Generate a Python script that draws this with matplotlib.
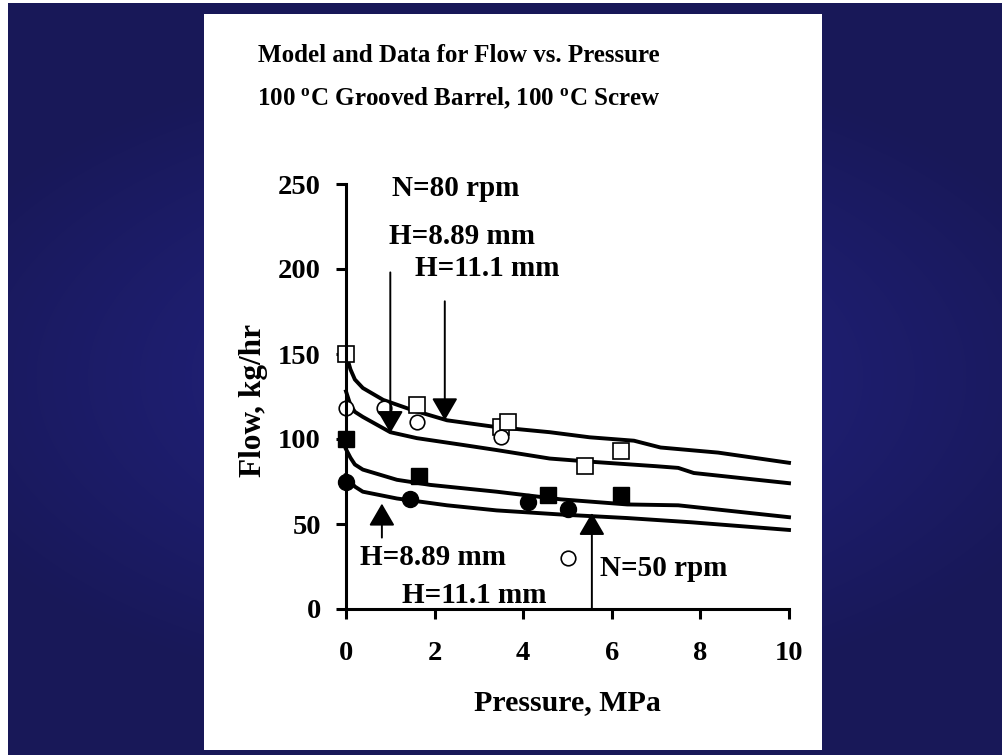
import numpy as np
import matplotlib.pyplot as plt
from matplotlib.patches import Rectangle

plt.rcParams['font.family'] = ['Liberation Serif', 'DejaVu Serif']
plt.rcParams['font.weight'] = 'bold'
plt.rcParams['mathtext.fontset'] = 'custom'
plt.rcParams['mathtext.rm'] = 'Liberation Serif:bold'
plt.rcParams['mathtext.it'] = 'Liberation Serif:bold'
plt.rcParams['mathtext.bf'] = 'Liberation Serif:bold'

# Model curves (pressure MPa, flow kg/hr)
p_80_111 = [0, 0.1, 0.2, 0.38, 0.84, 1.5, 2.28, 3.4, 4.6, 5.5, 6.5, 7.1, 8.4, 10]
q_80_111 = [150, 141, 135, 130, 123, 117, 111, 107, 104, 101, 99, 95, 92, 86]
p_80_889 = [0, 0.1, 0.2, 0.38, 1.0, 1.6, 2.64, 3.4, 4.6, 5.6, 7.0, 7.5, 7.85, 10]
q_80_889 = [128, 120, 116, 113, 104, 100.5, 96.5, 93.5, 88.5, 86.5, 84, 83, 80, 74]
p_50_111 = [0, 0.1, 0.2, 0.38, 1.15, 1.9, 3.4, 4.85, 6.35, 7.5, 10]
q_50_111 = [94, 89, 85, 82, 76, 73, 69, 64.5, 61.5, 61, 54]
p_50_889 = [0, 0.1, 0.2, 0.38, 1.15, 2.28, 3.4, 4.9, 6.35, 7.8, 10]
q_50_889 = [79, 75, 72, 69, 65, 61, 58, 55.5, 53.5, 51, 46.5]

# Measured data
p_sq_open = [0, 1.6, 3.5, 3.65, 5.4, 6.2]
q_sq_open = [150, 120, 107, 110, 84, 93]
p_ci_open = [0, 0.85, 1.6, 3.5, 5.0]
q_ci_open = [118, 118, 110, 101, 30]
p_sq_fill = [0, 1.65, 4.55, 6.2]
q_sq_fill = [100, 78, 67, 67]
p_ci_fill = [0, 1.45, 4.1, 5.0]
q_ci_fill = [75, 65, 63, 59]

# Arrows: x, tail y, head y
arrow_x = [1.0, 2.23, 0.81, 5.55]
arrow_from = [198, 181, 42, 0]
arrow_to = [103.5, 111, 62, 56.5]

W, H = 1003, 755
fig = plt.figure(figsize=(W / 100, H / 100), dpi=100)

# background gradient + white panel
bg = fig.add_axes([0, 0, 1, 1])
yy, xx = np.mgrid[0:H, 0:W]
d = np.clip(np.sqrt(((xx - 501) / 620) ** 2 + ((yy - 377) / 330) ** 2), 0, 1)
c_mid = np.array([36, 36, 135]) / 255
c_edge = np.array([24, 24, 88]) / 255
img = c_mid + (c_edge - c_mid) * d[..., None]
bg.imshow(img, extent=(0, W, H, 0), aspect='auto')
bg.add_patch(Rectangle((204, 14), 618, 736, facecolor='white', edgecolor='none'))
bg.add_patch(Rectangle((0, 0), 8, H, facecolor='white', edgecolor='none'))
bg.add_patch(Rectangle((0, 0), W, 3, facecolor='white', edgecolor='none'))
bg.set_xlim(0, W)
bg.set_ylim(H, 0)
bg.axis('off')

ax = fig.add_axes([346 / W, 1 - 609 / H, 443 / W, 425 / H])
ax.patch.set_alpha(0)

for p, q in [(p_80_111, q_80_111), (p_80_889, q_80_889),
             (p_50_111, q_50_111), (p_50_889, q_50_889)]:
    ax.plot(p, q, color='black', lw=2.8, solid_joinstyle='round', clip_on=False)

ax.plot(p_sq_open, q_sq_open, 's', ms=11, mfc='white', mec='black', mew=1.2, clip_on=False)
ax.plot(p_ci_open, q_ci_open, 'o', ms=10.5, mfc='white', mec='black', mew=1.2, clip_on=False)
ax.plot(p_sq_fill, q_sq_fill, 's', ms=11, mfc='black', mec='black', clip_on=False)
ax.plot(p_ci_fill, q_ci_fill, 'o', ms=11.5, mfc='black', mec='black', clip_on=False)

for x, y0, y1 in zip(arrow_x, arrow_from, arrow_to):
    ax.annotate('', xy=(x, y1), xytext=(x, y0),
                arrowprops=dict(arrowstyle='-|>,head_length=0.55,head_width=0.32',
                                lw=1.4, color='black', mutation_scale=25,
                                shrinkA=0, shrinkB=0))

fs = 21
ax.text(1.04, 247.5, 'N=80 rpm', fontsize=fs, fontweight='bold', va='center')
ax.text(0.97, 219, 'H=8.89 mm', fontsize=fs, fontweight='bold', va='center')
ax.text(1.56, 200.5, 'H=11.1 mm', fontsize=fs, fontweight='bold', va='center')
ax.text(0.32, 30.5, 'H=8.89 mm', fontsize=fs, fontweight='bold', va='center')
ax.text(1.26, 8.2, 'H=11.1 mm', fontsize=fs, fontweight='bold', va='center')
ax.text(5.73, 24, 'N=50 rpm', fontsize=fs, fontweight='bold', va='center')

ax.set_xlim(0, 10)
ax.set_ylim(0, 250)
ax.set_xticks([0, 2, 4, 6, 8, 10])
ax.set_yticks([0, 50, 100, 150, 200, 250])
for s in ['top', 'right']:
    ax.spines[s].set_visible(False)
for s in ['left', 'bottom']:
    ax.spines[s].set_linewidth(2.2)
ax.tick_params(axis='both', direction='out', length=7, width=2.2, labelsize=20.5)
ax.tick_params(axis='y', pad=11)
ax.tick_params(axis='x', pad=16)
for lab in ax.get_xticklabels() + ax.get_yticklabels():
    lab.set_fontweight('bold')

ax.set_xlabel('Pressure, MPa', fontsize=21.5, fontweight='bold')
ax.set_ylabel('Flow, kg/hr', fontsize=22.5, fontweight='bold')
ax.xaxis.set_label_coords(0.5, -0.188)
ax.yaxis.set_label_coords(-0.176, 0.49)

fig.text(459 / W, 1 - 55 / H, 'Model and Data for Flow vs. Pressure',
         fontsize=18, fontweight='bold', ha='center', va='center')
fig.text(459 / W, 1 - 98 / H, r'100 $^{o}$C Grooved Barrel, 100 $^{o}$C Screw',
         fontsize=18, fontweight='bold', ha='center', va='center')

fig.savefig('out.png', dpi=100)
